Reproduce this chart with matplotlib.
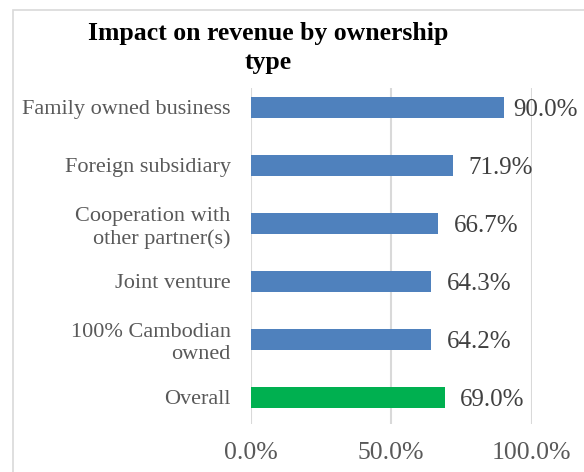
import matplotlib
matplotlib.use("Agg")
import matplotlib.pyplot as plt
from matplotlib.patches import Rectangle

categories = ["Family owned business", "Foreign subsidiary",
              "Cooperation with\nother partner(s)", "Joint venture",
              "100% Cambodian\nowned", "Overall"]
values = [90.0, 71.9, 66.7, 64.3, 64.2, 69.0]
bar_colors = ["#4F81BD", "#4F81BD", "#4F81BD", "#4F81BD", "#4F81BD", "#00B050"]
xticks = [0, 50, 100]
xtick_labels = ["0.0%", "50.0%", "100.0%"]
title = "Impact on revenue by ownership\ntype"

W, H = 584, 472
fig = plt.figure(figsize=(W / 100, H / 100), dpi=100)
fig.patch.set_facecolor("white")

# chart frame (extends past the right and bottom edges)
fig.patches.append(Rectangle((13 / W, -0.05), 1.2, (H - 10) / H + 0.05,
                             transform=fig.transFigure, fill=False,
                             edgecolor="#D9D9D9", linewidth=1.2))

ax = fig.add_axes([250.7 / W, (H - 424) / H, 281 / W, 336 / H])
y = list(range(len(categories)))
ax.barh(y, values, height=0.35, color=bar_colors, zorder=3)
ax.set_xlim(0, 100)
ax.set_ylim(len(categories) - 1 + 0.457, -0.336)

serif = ["Liberation Serif", "DejaVu Serif"]
labels = []
for yi, v in zip(y, values):
    labels.append(ax.text(v + 5.5, yi + 0.04, f"{v:.1f}%", va="center",
                          ha="left", fontsize=18, family=serif,
                          color="#404040", clip_on=False))

ax.set_yticks(y)
ax.set_yticklabels(categories, family=serif, fontsize=16, color="#595959",
                   linespacing=1.25)
ax.set_xticks(xticks)
ax.set_xticklabels(xtick_labels, family=serif, fontsize=18.5, color="#595959")
ax.tick_params(axis="both", length=0)
ax.tick_params(axis="y", pad=14.5)
ax.tick_params(axis="x", pad=13)
for s in ax.spines.values():
    s.set_visible(False)
ax.grid(axis="x", color="#D9D9D9", linewidth=1.5, zorder=0)
ax.set_axisbelow(True)

fig.text(268 / W, 1 - 48 / H, title, ha="center", va="center",
         family=serif, fontweight="bold", fontsize=18.5, linespacing=1.35,
         color="#000000")

# keep value labels inside the chart's right edge
fig.canvas.draw()
renderer = fig.canvas.get_renderer()
limit = W - 6
for t in labels:
    bb = t.get_window_extent(renderer)
    if bb.x1 > limit:
        x0, y0 = ax.transData.transform(t.get_position())
        t.set_position(ax.transData.inverted().transform((x0 - (bb.x1 - limit), y0)))

fig.savefig("out.png", dpi=100)
